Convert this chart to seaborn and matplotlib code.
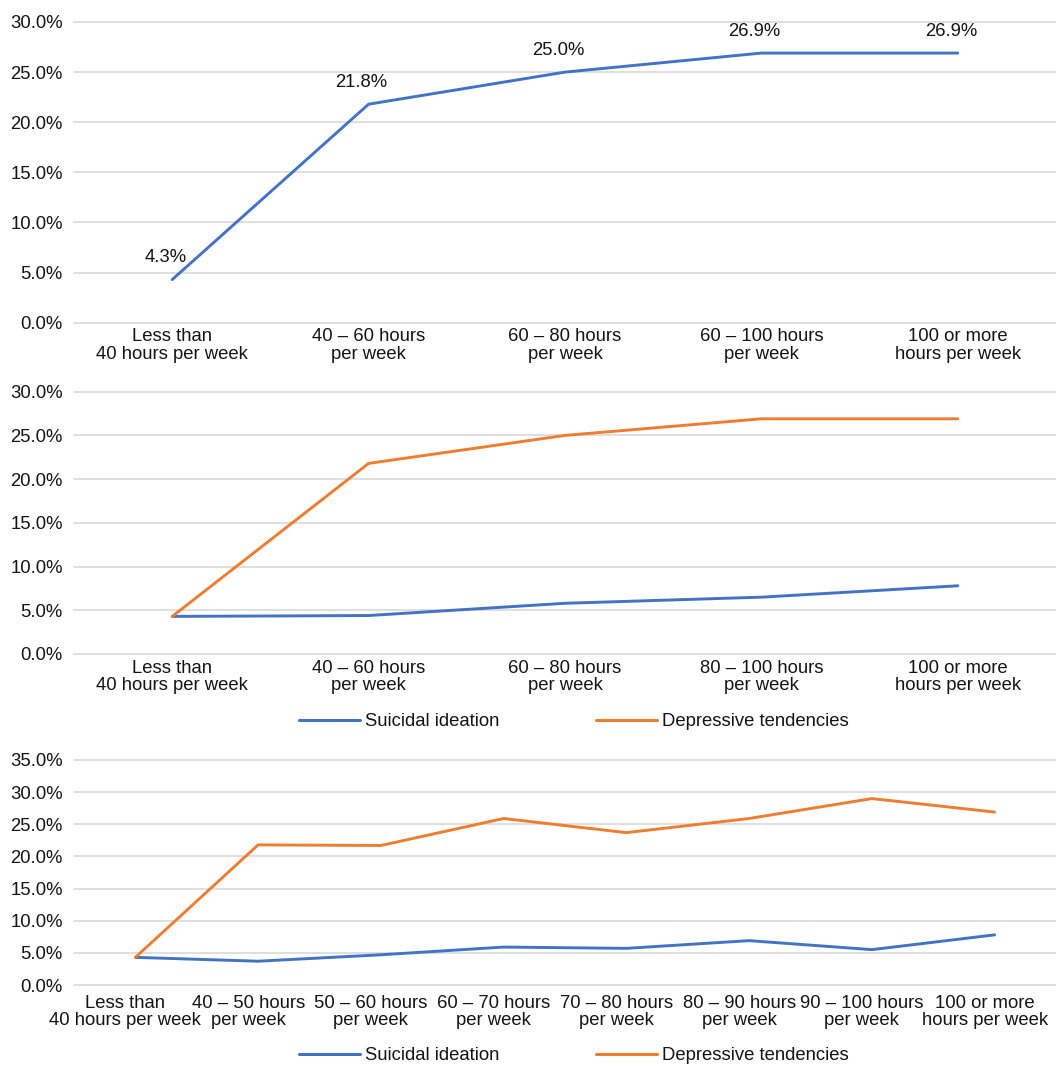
import matplotlib
matplotlib.use("Agg")
import matplotlib.pyplot as plt
import matplotlib.transforms as mtransforms
import seaborn as sns
import pandas as pd
from matplotlib.lines import Line2D
from matplotlib.ticker import FuncFormatter, MultipleLocator

# ---------------- data ----------------
cats1 = ["Less than\n40 hours per week", "40 – 60 hours\nper week", "60 – 80 hours\nper week",
         "60 – 100 hours\nper week", "100 or more\nhours per week"]
overall1 = [4.3, 21.8, 25.0, 26.9, 26.9]

cats2 = ["Less than\n40 hours per week", "40 – 60 hours\nper week", "60 – 80 hours\nper week",
         "80 – 100 hours\nper week", "100 or more\nhours per week"]
suicidal2 = [4.3, 4.4, 5.8, 6.5, 7.8]
depressive2 = [4.3, 21.8, 25.0, 26.9, 26.9]

cats3 = ["Less than\n40 hours per week", "40 – 50 hours\nper week", "50 – 60 hours\nper week",
         "60 – 70 hours\nper week", "70 – 80 hours\nper week", "80 – 90 hours\nper week",
         "90 – 100 hours\nper week", "100 or more\nhours per week"]
suicidal3 = [4.3, 3.7, 4.7, 5.9, 5.7, 6.9, 5.5, 7.8]
depressive3 = [4.3, 21.8, 21.7, 25.9, 23.7, 25.9, 29.0, 26.9]

series_names = ["Suicidal ideation", "Depressive tendencies"]
colors = ["#4472C4", "#ED7D31"]

# ---------------- style ----------------
sns.set_style("white")
plt.rcParams["font.family"] = ["Liberation Sans", "DejaVu Sans"]
TXT = "#141414"
FS = 13.3

W, H = 1056, 1066
fig = plt.figure(figsize=(W / 100, H / 100), dpi=100)


def make_ax(top_px, bottom_px):
    left = 74 / W
    return fig.add_axes([left, 1 - bottom_px / H, 1 - left, (bottom_px - top_px) / H])


def style_ax(ax, ymax, ncat, xpad=4, xshift_px=0):
    ax.set_ylim(0, ymax)
    ax.set_xlim(-0.5, ncat - 0.5)
    ax.yaxis.set_major_locator(MultipleLocator(5))
    ax.yaxis.set_major_formatter(FuncFormatter(lambda v, p: f"{v:.1f}%"))
    ax.grid(axis="y", color="#D9D9D9", linewidth=1.2)
    ax.grid(axis="x", visible=False)
    ax.set_axisbelow(True)
    for s in ax.spines.values():
        s.set_visible(False)
    ax.tick_params(axis="y", length=0, pad=8, labelsize=FS, labelcolor=TXT)
    ax.tick_params(axis="x", length=0, pad=xpad, labelsize=FS, labelcolor=TXT)
    shift = mtransforms.ScaledTranslation(xshift_px / 100, 0, fig.dpi_scale_trans)
    for lab in ax.get_xticklabels():
        lab.set_linespacing(1.02)
        if xshift_px:
            lab.set_transform(lab.get_transform() + shift)
    ax.set_xlabel("")
    ax.set_ylabel("")
    for gl in ax.get_ygridlines():
        gl.set_clip_on(False)


def add_legend(ax, y_px):
    handles = [Line2D([], [], color=c, lw=2.2) for c in colors]
    ax.legend(handles, series_names, loc="center", ncol=2, frameon=False,
              bbox_to_anchor=(574 / W, 1 - y_px / H), bbox_transform=fig.transFigure,
              fontsize=FS, handlelength=3.3, handletextpad=0.3, columnspacing=5.2,
              labelcolor=TXT)


# ---------------- panel 1 ----------------
ax1 = make_ax(22, 322.7)
df1 = pd.DataFrame({"cat": cats1, "val": overall1})
sns.lineplot(data=df1, x="cat", y="val", ax=ax1, color=colors[0], linewidth=2.1, sort=False)
style_ax(ax1, 30, len(cats1))
for i, v in enumerate(overall1):
    ax1.annotate(f"{v:.1f}%", (i, v), xytext=(-7, 22), textcoords="offset pixels",
                 ha="center", va="center", fontsize=FS, color=TXT)

# ---------------- panel 2 ----------------
ax2 = make_ax(391.7, 654)
df2 = pd.DataFrame({
    "cat": cats2 * 2,
    "val": suicidal2 + depressive2,
    "series": [series_names[0]] * len(cats2) + [series_names[1]] * len(cats2),
})
sns.lineplot(data=df2, x="cat", y="val", hue="series", palette=colors, ax=ax2,
             linewidth=2.1, sort=False, legend=False)
style_ax(ax2, 30, len(cats2))
add_legend(ax2, 722)

# ---------------- panel 3 ----------------
ax3 = make_ax(760, 985)
df3 = pd.DataFrame({
    "cat": cats3 * 2,
    "val": suicidal3 + depressive3,
    "series": [series_names[0]] * len(cats3) + [series_names[1]] * len(cats3),
})
sns.lineplot(data=df3, x="cat", y="val", hue="series", palette=colors, ax=ax3,
             linewidth=2.1, sort=False, legend=False)
style_ax(ax3, 35, len(cats3), xpad=7, xshift_px=-10)
add_legend(ax3, 1056)

fig.savefig("out.png", dpi=100, facecolor="white")
